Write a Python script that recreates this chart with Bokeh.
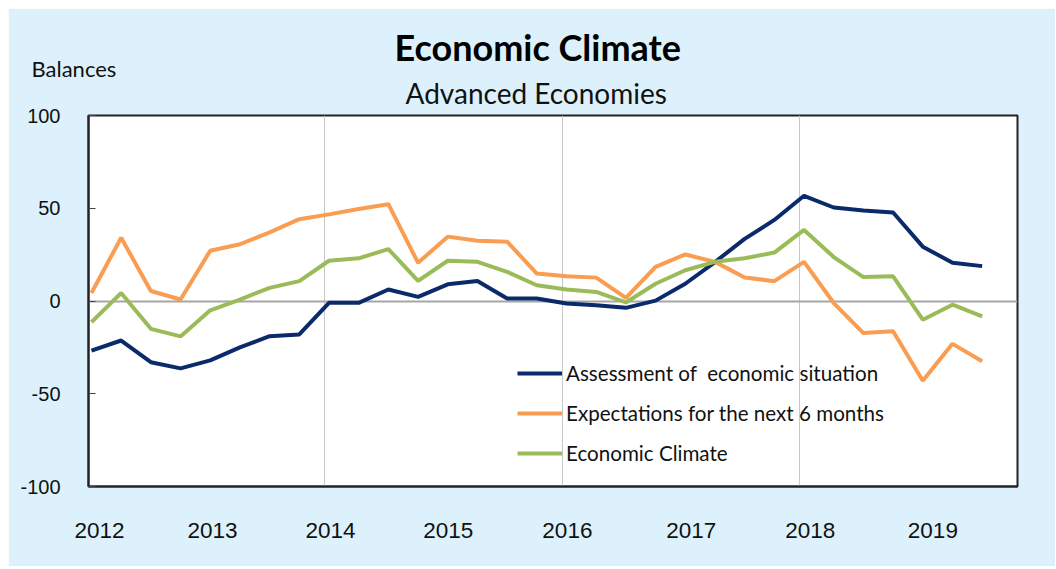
from bokeh.plotting import figure
from bokeh.models import Range1d, FixedTicker, Legend, LegendItem, Title
from bokeh.embed import file_html
from bokeh.resources import INLINE

quarters = ["2012Q1","2012Q2","2012Q3","2012Q4","2013Q1","2013Q2","2013Q3","2013Q4",
            "2014Q1","2014Q2","2014Q3","2014Q4","2015Q1","2015Q2","2015Q3","2015Q4",
            "2016Q1","2016Q2","2016Q3","2016Q4","2017Q1","2017Q2","2017Q3","2017Q4",
            "2018Q1","2018Q2","2018Q3","2018Q4","2019Q1","2019Q2","2019Q3"]
assessment = [-26.7, -21.3, -33.0, -36.3, -32.0, -25.0, -19.0, -18.0,
              -1.0, -1.0, 6.2, 2.2, 9.0, 10.8, 1.3, 1.3,
              -1.4, -2.3, -3.7, 0.2, 9.3, 21.0, 33.5, 43.7,
              56.7, 50.4, 48.8, 47.7, 29.3, 20.6, 18.8]
expectations = [4.3, 34.1, 5.4, 0.8, 27.1, 30.6, 37.0, 44.1,
                46.7, 49.6, 52.2, 20.6, 34.7, 32.5, 32.0, 14.8,
                13.4, 12.6, 1.7, 18.4, 25.1, 21.1, 12.7, 10.7,
                21.1, -1.1, -17.3, -16.3, -43.0, -23.1, -32.5]
climate = [-11.4, 4.3, -15.0, -19.1, -5.0, 0.8, 7.1, 10.7,
           21.7, 23.0, 28.0, 10.8, 21.7, 21.1, 15.7, 8.5,
           6.2, 4.9, -0.8, 9.3, 16.6, 21.1, 23.0, 26.1,
           38.3, 23.7, 12.9, 13.3, -10.1, -2.0, -8.3]
series_names = ["Assessment of  economic situation", "Expectations for the next 6 months", "Economic Climate"]
year_labels = ["2012", "2013", "2014", "2015", "2016", "2017", "2018", "2019"]
y_ticks = [-100, -50, 0, 50, 100]
y_tick_labels = ["-100", "-50", "0", "50", "100"]

# layout: where the year labels sit along the quarter index axis
year_label_pos = [0.27, 4.08, 8.05, 12.02, 16.03, 20.2, 24.21, 28.34]
vgrid_pos = [7.85, 15.85, 23.85]

x = list(range(len(quarters)))
BG = "#DDF1FC"
FONT = "Liberation Sans"
CAL = "Lato"

p = figure(width=1047, height=558, output_backend="svg", toolbar_location=None,
           x_range=Range1d(-0.1, 31.19), y_range=Range1d(-100, 100),
           min_border_left=80, min_border_right=38, min_border_top=107, min_border_bottom=80)
p.margin = (8, 0, 0, 8)
p.background_fill_color = "white"
p.border_fill_color = BG
p.outline_line_color = "#222222"
p.outline_line_width = 2

# axes
p.xaxis.ticker = FixedTicker(ticks=year_label_pos)
p.xaxis.major_label_overrides = {pos: lab for pos, lab in zip(year_label_pos, year_labels)}
p.xaxis.major_tick_in = 0
p.xaxis.major_tick_out = 0
p.xaxis.minor_tick_line_color = None
p.xaxis.axis_line_color = "#222222"
p.xaxis.axis_line_width = 2
p.xaxis.major_label_text_font = FONT
p.xaxis.major_label_text_font_size = "22.5px"
p.xaxis.major_label_text_color = "#111111"
p.xaxis.major_label_standoff = 36

p.yaxis.ticker = FixedTicker(ticks=y_ticks)
p.yaxis.major_label_overrides = {t: lab for t, lab in zip(y_ticks, y_tick_labels)}
p.yaxis.major_tick_in = 7
p.yaxis.major_tick_out = 0
p.yaxis.major_tick_line_color = "#444444"
p.yaxis.minor_tick_line_color = None
p.yaxis.axis_line_color = "#222222"
p.yaxis.axis_line_width = 2
p.yaxis.major_label_text_font = FONT
p.yaxis.major_label_text_font_size = "20px"
p.yaxis.major_label_text_color = "#111111"
p.yaxis.major_label_standoff = 28

# grids
p.xgrid.ticker = FixedTicker(ticks=vgrid_pos)
p.xgrid.grid_line_color = "#C8C8C8"
p.xgrid.grid_line_width = 1
p.ygrid.ticker = FixedTicker(ticks=[0])
p.ygrid.grid_line_color = "#A6A6A6"
p.ygrid.grid_line_width = 2

# lines
r1 = p.line(x, assessment, line_color="#0B2A6B", line_width=4)
r2 = p.line(x, expectations, line_color="#F99D52", line_width=4)
r3 = p.line(x, climate, line_color="#9BBB59", line_width=4)

legend = Legend(items=[LegendItem(label=series_names[0], renderers=[r1]),
                       LegendItem(label=series_names[1], renderers=[r2]),
                       LegendItem(label=series_names[2], renderers=[r3])],
                location=(429, 21), orientation="vertical",
                glyph_width=45, glyph_height=20, label_height=20, spacing=16,
                padding=0, margin=0, label_standoff=4,
                label_text_font=CAL, label_text_font_size="20.6px", label_text_color="#111111",
                background_fill_alpha=0, border_line_color=None)
p.add_layout(legend, "center")

# header texts, stacked outward from the plot frame
p.add_layout(Title(text="Advanced Economies", align="left", offset=317, standoff=12,
                   text_font=CAL, text_font_size="28px", text_font_style="normal",
                   text_color="#111111"), "above")
p.add_layout(Title(text="Balances", align="left", offset=-57, standoff=-28,
                   text_font=CAL, text_font_size="22px", text_font_style="normal",
                   text_color="#111111"), "above")
p.add_layout(Title(text="Economic Climate", align="left", offset=306, standoff=-4.2,
                   text_font=CAL, text_font_size="36px", text_font_style="bold",
                   text_color="#000000"), "above")

open("out.html", "w").write(file_html(p, INLINE))
